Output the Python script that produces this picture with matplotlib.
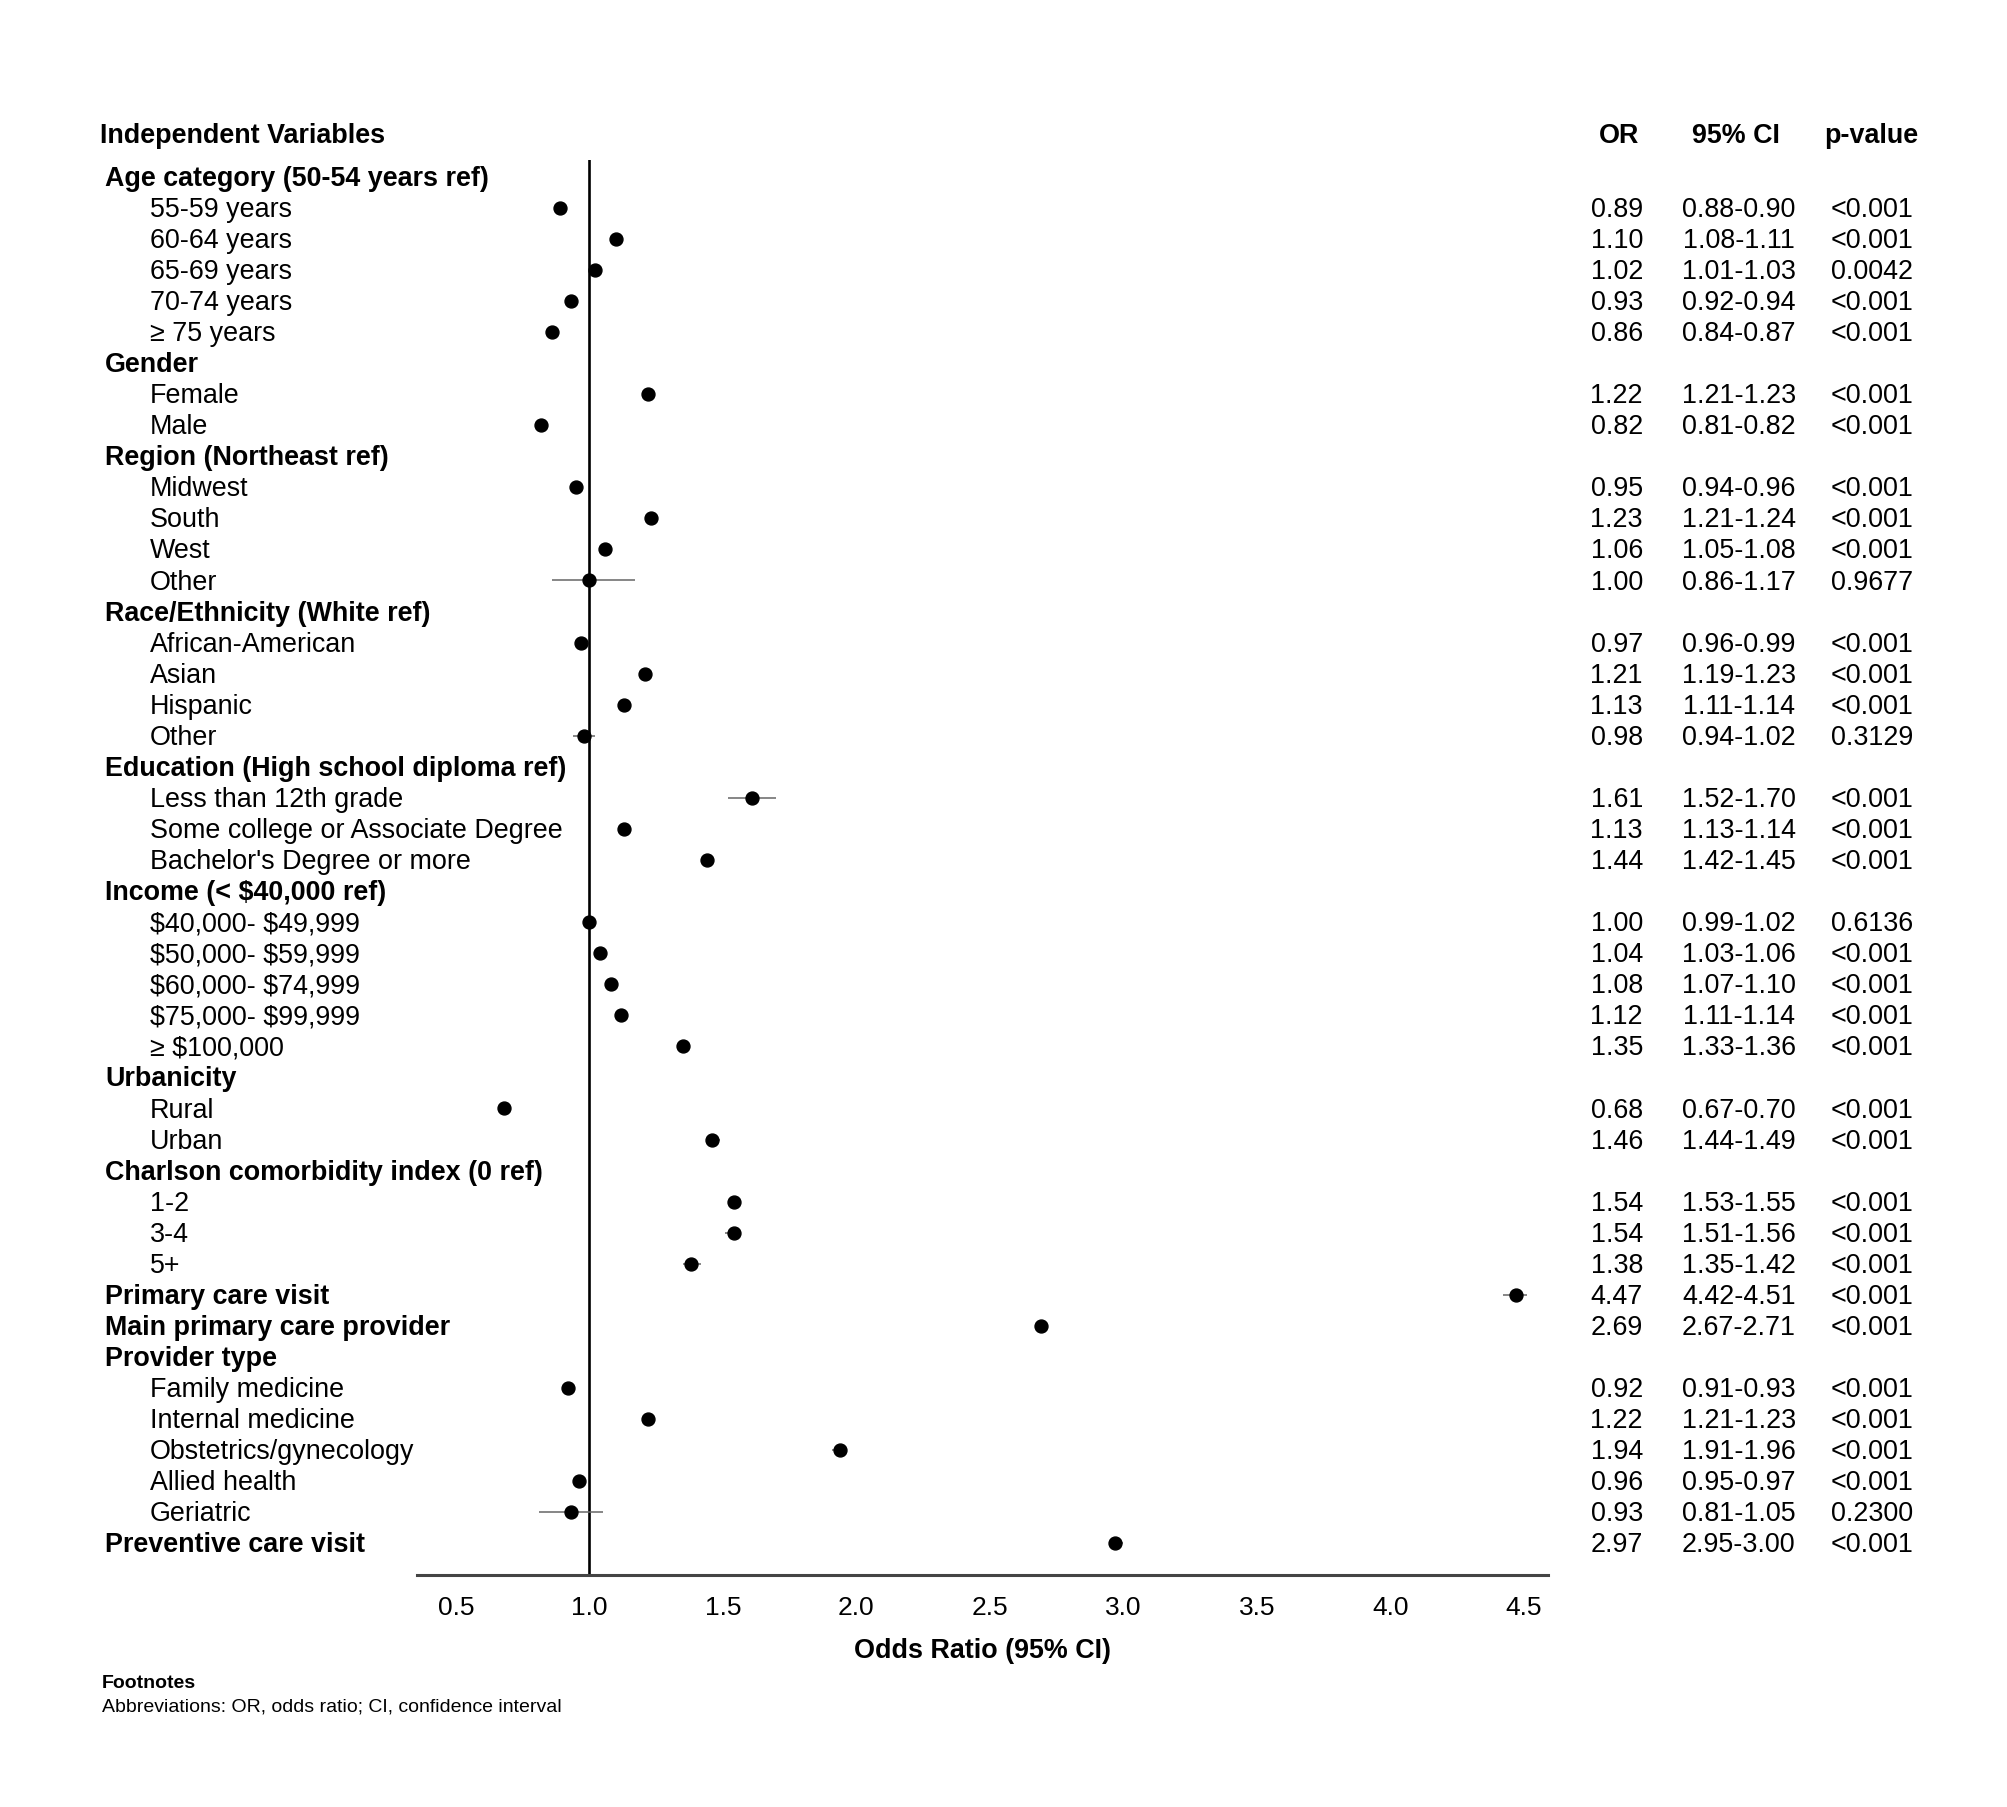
import matplotlib
matplotlib.use("Agg")
import matplotlib.pyplot as plt
import matplotlib.transforms as mtransforms

plt.rcParams['font.family'] = ['Liberation Sans', 'DejaVu Sans']

labels = [
    "Age category (50-54 years ref)", "55-59 years", "60-64 years", "65-69 years", "70-74 years", "\u2265 75 years",
    "Gender", "Female", "Male",
    "Region (Northeast ref)", "Midwest", "South", "West", "Other",
    "Race/Ethnicity (White ref)", "African-American", "Asian", "Hispanic", "Other",
    "Education (High school diploma ref)", "Less than 12th grade", "Some college or Associate Degree", "Bachelor's Degree or more",
    "Income (< $40,000 ref)", "$40,000- $49,999", "$50,000- $59,999", "$60,000- $74,999", "$75,000- $99,999", "\u2265 $100,000",
    "Urbanicity", "Rural", "Urban",
    "Charlson comorbidity index (0 ref)", "1-2", "3-4", "5+",
    "Primary care visit", "Main primary care provider",
    "Provider type", "Family medicine", "Internal medicine", "Obstetrics/gynecology", "Allied health", "Geriatric",
    "Preventive care visit",
]
bold = [
    True, False, False, False, False, False,
    True, False, False,
    True, False, False, False, False,
    True, False, False, False, False,
    True, False, False, False,
    True, False, False, False, False, False,
    True, False, False,
    True, False, False, False,
    True, True,
    True, False, False, False, False, False,
    True,
]
N = None
odds = [N, 0.89, 1.10, 1.02, 0.93, 0.86,
        N, 1.22, 0.82,
        N, 0.95, 1.23, 1.06, 1.00,
        N, 0.97, 1.21, 1.13, 0.98,
        N, 1.61, 1.13, 1.44,
        N, 1.00, 1.04, 1.08, 1.12, 1.35,
        N, 0.68, 1.46,
        N, 1.54, 1.54, 1.38,
        4.47, 2.69,
        N, 0.92, 1.22, 1.94, 0.96, 0.93,
        2.97]
ci_low = [N, 0.88, 1.08, 1.01, 0.92, 0.84,
          N, 1.21, 0.81,
          N, 0.94, 1.21, 1.05, 0.86,
          N, 0.96, 1.19, 1.11, 0.94,
          N, 1.52, 1.13, 1.42,
          N, 0.99, 1.03, 1.07, 1.11, 1.33,
          N, 0.67, 1.44,
          N, 1.53, 1.51, 1.35,
          4.42, 2.67,
          N, 0.91, 1.21, 1.91, 0.95, 0.81,
          2.95]
ci_high = [N, 0.90, 1.11, 1.03, 0.94, 0.87,
           N, 1.23, 0.82,
           N, 0.96, 1.24, 1.08, 1.17,
           N, 0.99, 1.23, 1.14, 1.02,
           N, 1.70, 1.14, 1.45,
           N, 1.02, 1.06, 1.10, 1.14, 1.36,
           N, 0.70, 1.49,
           N, 1.55, 1.56, 1.42,
           4.51, 2.71,
           N, 0.93, 1.23, 1.96, 0.97, 1.05,
           3.00]
pvals = [N, "<0.001", "<0.001", "0.0042", "<0.001", "<0.001",
         N, "<0.001", "<0.001",
         N, "<0.001", "<0.001", "<0.001", "0.9677",
         N, "<0.001", "<0.001", "<0.001", "0.3129",
         N, "<0.001", "<0.001", "<0.001",
         N, "0.6136", "<0.001", "<0.001", "<0.001", "<0.001",
         N, "<0.001", "<0.001",
         N, "<0.001", "<0.001", "<0.001",
         "<0.001", "<0.001",
         N, "<0.001", "<0.001", "<0.001", "<0.001", "0.2300",
         "<0.001"]
xticks = [0.5, 1.0, 1.5, 2.0, 2.5, 3.0, 3.5, 4.0, 4.5]

FS = 19.4
fig = plt.figure(figsize=(20.08, 18.07), dpi=100)
ax = fig.add_axes([0.2077, 0.1284, 0.5632, 0.7831])

n = len(labels)
ax.set_xlim(0.355, 4.59)
ax.set_ylim(n - 1 + 1.02, -0.54)

for i in range(n):
    if odds[i] is None:
        continue
    ax.plot([ci_low[i], ci_high[i]], [i, i], color="#666666", lw=1.1, zorder=2, solid_capstyle='butt')
    ax.plot(odds[i], i, 'o', color='black', ms=9.3, zorder=3)

ax.axvline(1.0, color='black', lw=1.9, zorder=1)

for s in ['top', 'right', 'left']:
    ax.spines[s].set_visible(False)
ax.spines['bottom'].set_color('#444444')
ax.spines['bottom'].set_linewidth(2.2)
ax.set_yticks([])
ax.set_xticks(xticks)
ax.set_xticklabels([f"{t:.1f}" for t in xticks])
ax.tick_params(axis='x', length=0, pad=15, labelsize=19)
ax.set_xlabel("Odds Ratio (95% CI)", fontsize=FS, fontweight='bold', labelpad=13)

trans = mtransforms.blended_transform_factory(fig.transFigure, ax.transData)
for i in range(n):
    x = 0.0523 if bold[i] else 0.0747
    ax.text(x, i - 0.03, labels[i], transform=trans, ha='left', va='center_baseline',
            fontsize=FS, fontweight='bold' if bold[i] else 'normal', clip_on=False, parse_math=False)
    if odds[i] is not None:
        ax.text(0.8182, i - 0.03, f"{odds[i]:.2f}", transform=trans, ha='right', va='center_baseline', fontsize=FS, clip_on=False)
        ax.text(0.8660, i - 0.03, f"{ci_low[i]:.2f}-{ci_high[i]:.2f}", transform=trans, ha='center', va='center_baseline', fontsize=FS, clip_on=False)
        ax.text(0.9527, i - 0.03, pvals[i], transform=trans, ha='right', va='center_baseline', fontsize=FS, clip_on=False)

hy = -1.42
ax.text(0.0498, hy, "Independent Variables", transform=trans, ha='left', va='center_baseline', fontsize=FS, fontweight='bold', clip_on=False)
ax.text(0.8063, hy, "OR", transform=trans, ha='center', va='center_baseline', fontsize=FS, fontweight='bold', clip_on=False)
ax.text(0.8646, hy, "95% CI", transform=trans, ha='center', va='center_baseline', fontsize=FS, fontweight='bold', clip_on=False)
ax.text(0.9320, hy, "p-value", transform=trans, ha='center', va='center_baseline', fontsize=FS, fontweight='bold', clip_on=False)

fig.text(0.0508, 0.0681, "Footnotes", ha='left', va='center', fontsize=14, fontweight='bold')
fig.text(0.0508, 0.0553, "Abbreviations: OR, odds ratio; CI, confidence interval", ha='left', va='center', fontsize=14)

fig.savefig("out.png", dpi=100, facecolor='white')
